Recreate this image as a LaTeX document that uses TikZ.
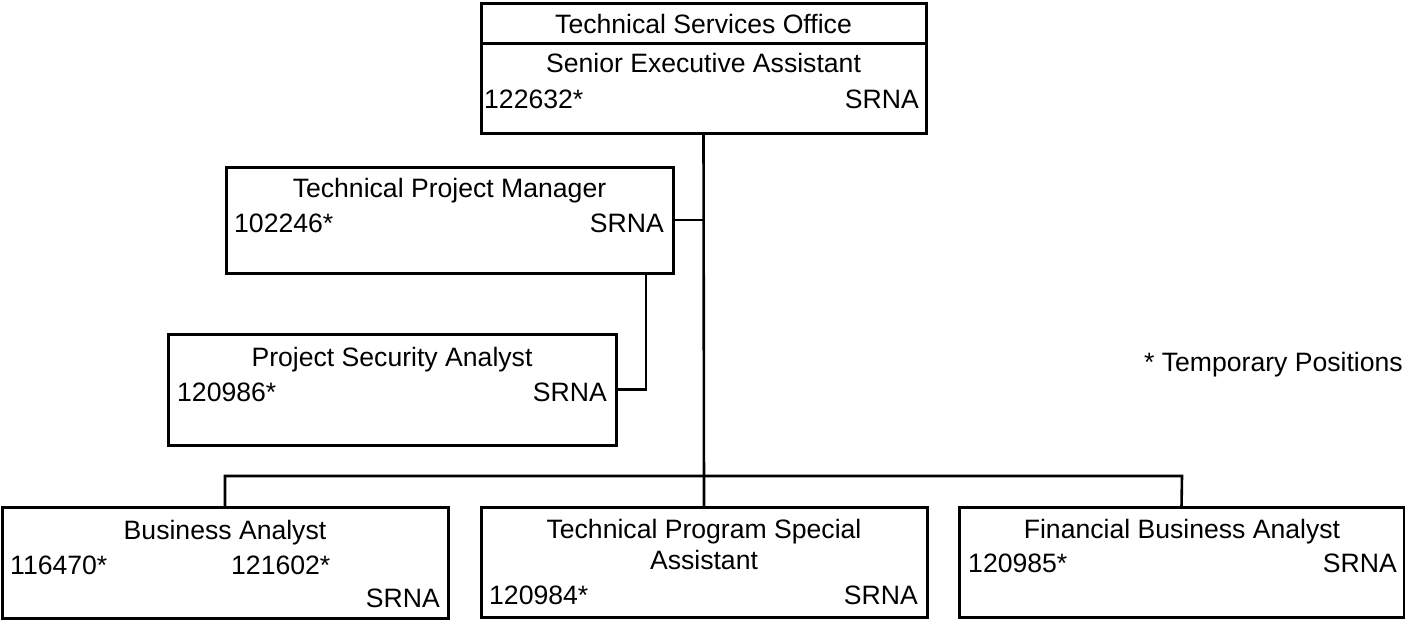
\documentclass[tikz,border=0pt]{standalone}
\usepackage{fontspec}
\setmainfont{Liberation Sans}
\usetikzlibrary{calc}

\tikzset{
  orgbox/.style={draw=black, line width=3pt, rectangle, inner sep=0pt,
                 outer sep=0pt, anchor=north west},
  conn/.style={draw=black, line width=2.6pt},
  txt/.style={inner sep=0pt, anchor=base, font=\fontsize{26.6}{31}\selectfont},
  ltxt/.style={txt, anchor=base west},
  rtxt/.style={txt, anchor=base east}
}

\begin{document}
\begin{tikzpicture}[x=1pt, y=-1pt]
  \useasboundingbox (0,0) rectangle (1405,621);

  % position boxes
  \node[orgbox, minimum width=445pt, minimum height=130pt] (tso)  at (481,3)   {};
  \node[orgbox, minimum width=447pt, minimum height=106pt] (tpm)  at (226,167) {};
  \node[orgbox, minimum width=448pt, minimum height=111pt] (psa)  at (168,334) {};
  \node[orgbox, minimum width=446pt, minimum height=111pt] (ba)   at (2,507)   {};
  \node[orgbox, minimum width=446pt, minimum height=110pt] (tpsa) at (481,507) {};
  \node[orgbox, minimum width=445pt, minimum height=110pt] (fba)  at (959,507) {};

  % office header divider
  \coordinate (divl) at (481,43);
  \coordinate (divr) at (926,43);
  \draw[line width=3pt] (divl) -- (divr);

  % office box text
  \node[txt]  (tsoT) at (703.5,33) {Technical Services Office};
  \node[txt]  (tsoS) at (703.5,72) {Senior Executive Assistant};
  \node[ltxt] (tsoN) at (484,108)  {122632*};
  \node[rtxt] (tsoR) at (919,108)  {SRNA};

  % technical project manager
  \node[txt]  (tpmT) at (449.5,197) {Technical Project Manager};
  \node[ltxt] (tpmN) at (234,232)   {102246*};
  \node[rtxt] (tpmR) at (664,232)   {SRNA};

  % project security analyst
  \node[txt]  (psaT) at (392,366) {Project Security Analyst};
  \node[ltxt] (psaN) at (177,401) {120986*};
  \node[rtxt] (psaR) at (607,401) {SRNA};

  % business analyst
  \node[txt]  (baT)  at (225,539) {Business Analyst};
  \node[ltxt] (baN1) at (10,574)  {116470*};
  \node[ltxt] (baN2) at (231,574) {121602*};
  \node[rtxt] (baR)  at (440,607) {SRNA};

  % technical program special assistant
  \node[txt]  (tpsaT1) at (704,538) {Technical Program Special};
  \node[txt]  (tpsaT2) at (704,569) {Assistant};
  \node[ltxt] (tpsaN)  at (489,604) {120984*};
  \node[rtxt] (tpsaR)  at (918,604) {SRNA};

  % financial business analyst
  \node[txt]  (fbaT) at (1182,538) {Financial Business Analyst};
  \node[ltxt] (fbaN) at (968,572)  {120985*};
  \node[rtxt] (fbaR) at (1397,572) {SRNA};

  % legend
  \node[rtxt] (legend) at (1403,371) {* Temporary Positions};

  % reporting lines
  \coordinate (busL) at (225,476);
  \coordinate (busR) at (1182,476);
  \draw[conn] (tso.south) -- (tpsa.north);
  \draw[conn] (tpm.east) -- (tpm.east -| tso.south);
  \draw[conn] (psa.east) -| ($(tpm.south east)+(-27,0)$);
  \draw[conn] (ba.north) -- (busL) -- (busR) -- (fba.north);
\end{tikzpicture}
\end{document}
